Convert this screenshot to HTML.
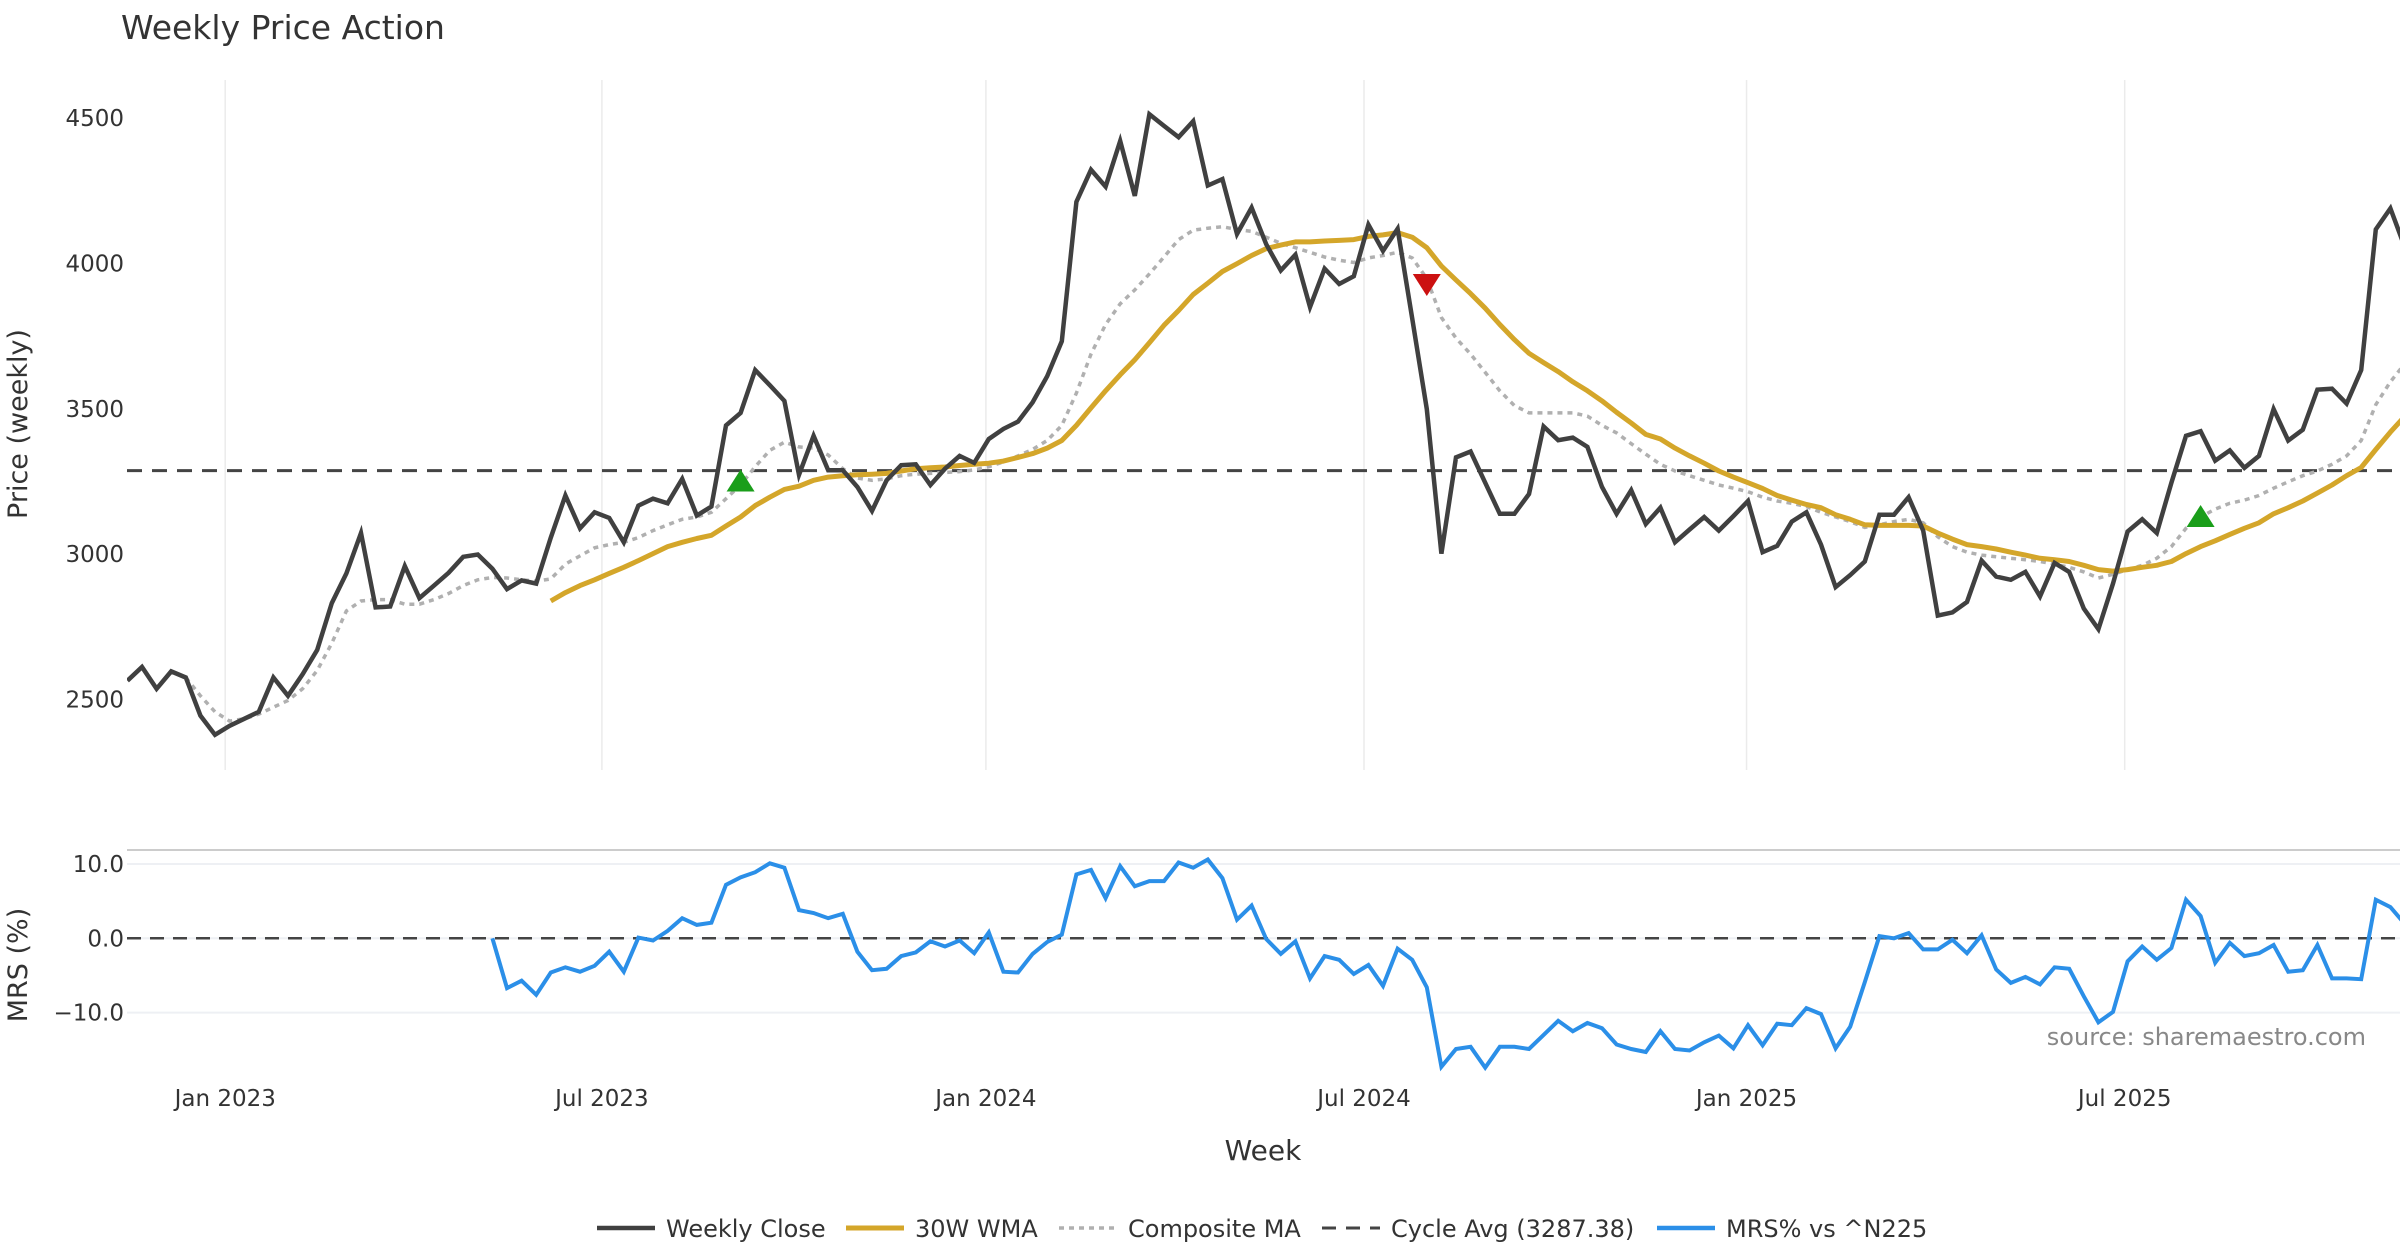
<!DOCTYPE html>
<html><head><meta charset="utf-8">
<style>
html,body{margin:0;padding:0;background:#fff;}
svg{display:block;font-family:"DejaVu Sans","Liberation Sans",sans-serif;}
</style></head>
<body>
<svg id="chart" width="2400" height="1260" viewBox="0 0 2400 1260" xmlns="http://www.w3.org/2000/svg">
<text x="121" y="39" font-size="33" fill="#333">Weekly Price Action</text>
<text transform="translate(27,424) rotate(-90)" text-anchor="middle" font-size="27" fill="#333">Price (weekly)</text>
<text transform="translate(27,965) rotate(-90)" text-anchor="middle" font-size="27" fill="#333">MRS (%)</text>
<text x="1263" y="1160" text-anchor="middle" font-size="28" fill="#333">Week</text>
<text x="2366" y="1045" text-anchor="end" font-size="24" fill="#888">source: sharemaestro.com</text>
<defs>
<clipPath id="cp1"><rect x="127" y="78" width="2273" height="694"/></clipPath>
<clipPath id="cp2"><rect x="127" y="850" width="2273" height="230"/></clipPath>
</defs>
<g id="grid"></g>
<g id="price" clip-path="url(#cp1)"></g>
<g id="mrs" clip-path="url(#cp2)"></g>
<g id="axes"></g>
<g id="legend"></g>
</svg>
<script>
const close = [2565,2612,2537,2597,2576,2445,2379,2410,2434,2458,2576,2513,2587,2671,2832,2934,3073,2817,2820,2959,2849,2892,2936,2991,2999,2950,2880,2910,2899,3057,3202,3089,3144,3125,3041,3167,3191,3175,3259,3133,3164,3443,3486,3633,3581,3527,3273,3407,3289,3289,3231,3149,3254,
3306,3309,3238,3294,3338,3314,3396,3431,3456,3522,3612,3732,4212,4322,4264,4421,4232,4513,4473,4434,4489,4268,4290,4101,4192,4066,3976,4030,3850,3982,3929,3956,4133,4043,4119,3811,3499,3002,3333,3353,3246,3139,3139,3207,3439,3392,3401,3369,3231,3139,3220,3104,
3160,3041,3085,3128,3081,3131,3183,3007,3029,3112,3144,3033,2887,2928,2975,3136,3136,3196,3081,2789,2800,2836,2978,2923,2912,2939,2855,2970,2939,2813,2742,2899,3078,3120,3073,3246,3407,3423,3322,3357,3297,3338,3499,3391,3428,3566,3569,3518,3633,4117,4189,4054];
const wmaStart = 29;
const wma = [2839,2868,2892,2912,2934,2955,2978,3002,3026,3041,3054,3065,3097,3128,3167,3196,3223,3234,3254,3265,3270,3273,3275,3278,
3286,3294,3297,3300,3305,3309,3313,3320,3333,3346,3365,3391,3443,3503,3562,3617,3669,3727,3787,3838,3893,3932,3972,3999,4027,4051,4063,4074,4074,4077,4079,4082,4093,4098,4106,4090,4054,3991,3943,3896,3846,3790,3738,3691,3659,3628,3593,3562,3527,3488,3451,3412,
3396,3365,3338,3313,3286,3265,3246,3226,3202,3186,3171,3160,3136,3120,3101,3099,3099,3099,3097,3073,3052,3033,3026,3018,3007,2997,2986,2981,2975,2962,2947,2942,2947,2955,2962,2975,3002,3026,3046,3068,3089,3108,3139,3160,3183,3210,3238,3270,3298,3360,3420,3475];
const compStart = 4;
const composite = [2576,2513,2458,2426,2434,2450,2474,2497,2537,2600,2694,2805,2839,2844,2844,2828,2828,2844,2865,2892,2912,2920,2918,2912,2907,2915,2966,2994,3022,3033,3041,3057,3081,3101,3120,3128,3144,3191,3238,3301,3357,3385,3369,3365,3341,3294,3262,3254,3259,
3270,3275,3278,3281,3284,3290,3301,3317,3338,3360,3391,3443,3554,3688,3790,3861,3909,3964,4022,4082,4114,4121,4126,4117,4110,4090,4069,4054,4038,4022,4011,4003,4019,4027,4038,4019,3948,3814,3743,3688,3625,3562,3511,3486,3486,3486,3486,3475,3443,3417,3380,3344,
3309,3286,3270,3254,3238,3227,3215,3196,3183,3175,3164,3144,3128,3112,3092,3101,3112,3120,3108,3060,3026,3007,2997,2991,2986,2981,2975,2966,2955,2939,2918,2931,2947,2962,2986,3026,3089,3128,3155,3175,3186,3202,3227,3249,3270,3286,3309,3338,3391,3514,3593,3656];
const mrsStart = 25;
const mrs = [0,-6.7,-5.7,-7.6,-4.6,-3.9,-4.5,-3.7,-1.8,-4.5,0.1,-0.3,1.0,2.7,1.8,2.1,7.2,8.2,8.9,10.1,9.5,3.8,3.4,2.7,3.3,-1.8,-4.3,-4.1,-2.4,-1.9,-0.4,-1.1,-0.3,-2.0,0.8,-4.5,-4.6,-2.1,-0.5,0.5,8.6,9.2,5.4,9.7,7.0,7.7,7.7,10.2,9.5,10.6,8.1,2.5,4.4,-0.1,-2.1,-0.4,-5.4,-2.4,-2.9,-4.8,-3.6,-6.4,-1.4,-2.9,-6.6,
-17.3,-14.9,-14.6,-17.4,-14.6,-14.6,-14.9,-13.0,-11.1,-12.5,-11.4,-12.1,-14.3,-14.9,-15.3,-12.5,-14.9,-15.1,-14.0,-13.1,-14.8,-11.7,-14.4,-11.5,-11.7,-9.4,-10.2,-14.8,-11.9,-5.9,0.3,0,0.7,-1.5,-1.5,-0.2,-2.0,0.4,-4.2,-6.0,-5.2,-6.2,-3.9,-4.1,-7.8,-11.3,-9.9,-3.1,-1.1,-2.9,-1.3,5.2,3.0,-3.3,-0.6,-2.4,-2.0,-0.9,-4.5,-4.3,-0.9,-5.4,-5.4,-5.5,5.2,4.2,1.9];
const cycleAvg = 3287.38;
const upSignalIdx = [42, 142];
const upSignalVal = [3250, 3128];
const downSignalIdx = [89];
const downSignalVal = [3929];
const priceTicks = [2500, 3000, 3500, 4000, 4500];
const mrsTicks = [10, 0, -10];
const dateTickIdx = [6.7, 32.5, 58.8, 84.7, 110.9, 136.8];
const dateTickLabels = ["Jan 2023", "Jul 2023", "Jan 2024", "Jul 2024", "Jan 2025", "Jul 2025"];

const NS = "http://www.w3.org/2000/svg";
const xOf = i => 127.4 + i * 14.6;
const yP = p => 118 + (4500 - p) * 0.2908;
const yM = v => 938.3 - v * 7.43;
function mk(tag, attrs, parent) {
  const e = document.createElementNS(NS, tag);
  for (const k in attrs) e.setAttribute(k, attrs[k]);
  parent.appendChild(e);
  return e;
}
const grid = document.getElementById('grid');
const price = document.getElementById('price');
const mrsG = document.getElementById('mrs');
const axes = document.getElementById('axes');
const legend = document.getElementById('legend');

dateTickIdx.forEach((d, k) => {
  const x = xOf(d);
  const gl = mk('line', {x1: x, x2: x, y1: 80, y2: 770, stroke: '#ebebeb', 'stroke-width': 1.5}, grid);
  
  
  const t = mk('text', {x: x, y: 1106, 'text-anchor': 'middle', 'font-size': 23, fill: '#333'}, axes);
  t.textContent = dateTickLabels[k];
  
  
});
priceTicks.forEach(p => {
  const t = mk('text', {x: 124, y: yP(p) + 8, 'text-anchor': 'end', 'font-size': 23, fill: '#333'}, axes);
  t.textContent = p;
  
  
});
const topLine = mk('line', {x1: 127, x2: 2400, y1: 850, y2: 850, stroke: '#ccc', 'stroke-width': 2}, grid);


mrsTicks.forEach(v => {
  const gl = mk('line', {x1: 127, x2: 2400, y1: yM(v), y2: yM(v), stroke: '#eef0f4', 'stroke-width': 2}, grid);
  
  
  const t = mk('text', {x: 124, y: yM(v) + 8, 'text-anchor': 'end', 'font-size': 23, fill: '#333'}, axes);
  t.textContent = v === 0 ? '0.0' : (v > 0 ? v.toFixed(1) : '\u2212' + Math.abs(v).toFixed(1));
  
  
});

function pathFrom(arr, start, yf) {
  return arr.map((v, k) => (k ? 'L' : 'M') + xOf(start + k).toFixed(1) + ' ' + yf(v).toFixed(1)).join(' ');
}
const ca = mk('line', {x1: 127, x2: 2400, y1: yP(cycleAvg), y2: yP(cycleAvg), stroke: '#444', 'stroke-width': 3, 'stroke-dasharray': '15 10'}, price);


const cm = mk('path', {d: pathFrom(composite, compStart, yP), fill: 'none', stroke: '#b0b0b0', 'stroke-width': 3.5, 'stroke-dasharray': '5 5'}, price);


const wl = mk('path', {d: pathFrom(wma, wmaStart, yP), fill: 'none', stroke: '#d4a62a', 'stroke-width': 5, 'stroke-linejoin': 'round'}, price);


const cl = mk('path', {d: pathFrom(close, 0, yP), fill: 'none', stroke: '#404040', 'stroke-width': 4.5, 'stroke-linejoin': 'miter'}, price);


upSignalIdx.forEach((i, k) => {
  const x = xOf(i), y = yP(upSignalVal[k]);
  const tri = mk('path', {d: `M${x - 14} ${y + 10} L${x + 14} ${y + 10} L${x} ${y - 12} Z`, fill: '#1a9e1a'}, price);
  
  
});
downSignalIdx.forEach((i, k) => {
  const x = xOf(i), y = yP(downSignalVal[k]);
  const tri = mk('path', {d: `M${x - 14} ${y - 10} L${x + 14} ${y - 10} L${x} ${y + 12} Z`, fill: '#cc1111'}, price);
  
  
});
const z = mk('line', {x1: 127, x2: 2400, y1: yM(0), y2: yM(0), stroke: '#444', 'stroke-width': 2.5, 'stroke-dasharray': '14 9'}, mrsG);


const ml = mk('path', {d: pathFrom(mrs, mrsStart, yM), fill: 'none', stroke: '#2b8fe8', 'stroke-width': 4}, mrsG);



const legItems = [
  {label: 'Weekly Close', x: 597, color: '#404040', dash: '', w: 4.5},
  {label: '30W WMA', x: 846, color: '#d4a62a', dash: '', w: 5},
  {label: 'Composite MA', x: 1059, color: '#b0b0b0', dash: '5 5', w: 3.5},
  {label: 'Cycle Avg (3287.38)', x: 1322, color: '#444', dash: '14 10', w: 3},
  {label: 'MRS% vs ^N225', x: 1657, color: '#2b8fe8', dash: '', w: 4.5}
];
legItems.forEach(it => {
  const g = mk('g', {}, legend);
  
  
  const a = {x1: it.x, x2: it.x + 58, y1: 1228, y2: 1228, stroke: it.color, 'stroke-width': it.w};
  if (it.dash) a['stroke-dasharray'] = it.dash;
  mk('line', a, g);
  const t = mk('text', {x: it.x + 69, y: 1237, 'font-size': 24, fill: '#333'}, g);
  t.textContent = it.label;
});
</script>
</body></html>
